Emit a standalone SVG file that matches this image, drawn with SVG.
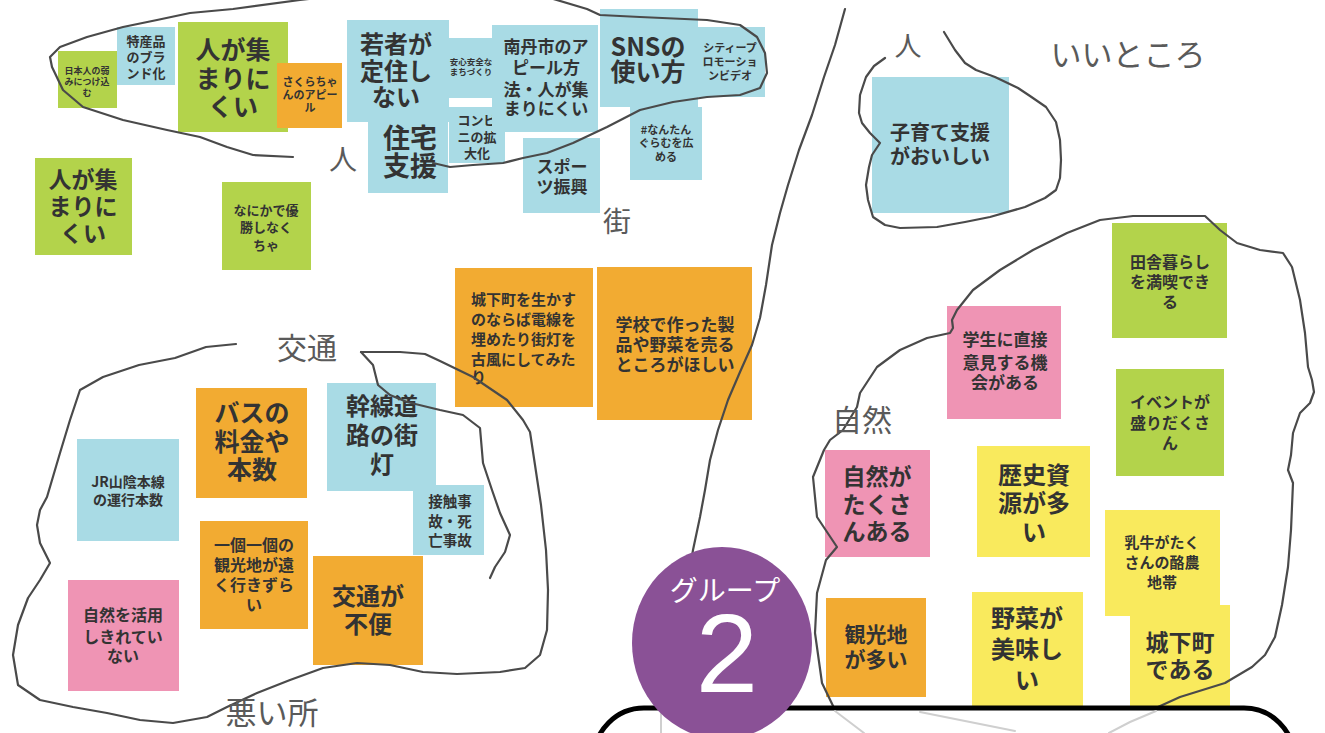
<svg xmlns="http://www.w3.org/2000/svg" width="1325" height="733" viewBox="0 0 1325 733">
<style>
.b{fill:#a9dbe5}.g{fill:#b3d34b}.o{fill:#f2ab32}.p{fill:#ef94b4}.y{fill:#f9ea5d}
text{font-family:"Noto Sans CJK JP","Noto Sans",sans-serif;font-weight:700;fill:#333;text-anchor:middle}
.lb{font-weight:400;fill:#5a5a5a}
.ln{fill:none;stroke:#4a4a4a;stroke-width:2.2;stroke-linejoin:round;stroke-linecap:round}
.fl{fill:none;stroke:#cfcfcf;stroke-width:2;stroke-linecap:round}
</style>
<rect width="1325" height="733" fill="#fff"/>
<g id="notes">
<g id="n1"><rect class="g" x="58" y="51" width="59" height="57"/><text font-size="9"><tspan x="87" y="74">日本人の弱</tspan><tspan x="87" y="85">みにつけ込</tspan><tspan x="87" y="96">む</tspan></text></g>
<g id="n2"><rect class="b" x="117" y="27" width="58" height="58"/><text font-size="13"><tspan x="146" y="46">特産品</tspan><tspan x="146" y="62">のブラ</tspan><tspan x="146" y="78">ンド化</tspan></text></g>
<g id="n3"><rect class="g" x="178" y="22" width="110" height="110"/><text font-size="25"><tspan x="233" y="59">人が集</tspan><tspan x="233" y="88">まりに</tspan><tspan x="233" y="116">くい</tspan></text></g>
<g id="n4"><rect class="o" x="277" y="63" width="65" height="65"/><text font-size="11"><tspan x="310" y="86">さくらちゃ</tspan><tspan x="310" y="99">んのアピー</tspan><tspan x="310" y="112">ル</tspan></text></g>
<g id="n5"><rect class="g" x="35" y="158" width="97" height="97"/><text font-size="23"><tspan x="83" y="188">人が集</tspan><tspan x="83" y="215">まりに</tspan><tspan x="83" y="242">くい</tspan></text></g>
<g id="n6"><rect class="g" x="222" y="182" width="89" height="88"/><text font-size="13"><tspan x="266" y="215">なにかで優</tspan><tspan x="266" y="232">勝しなく</tspan><tspan x="266" y="250">ちゃ</tspan></text></g>
<g id="n7"><rect class="b" x="347" y="20" width="102" height="102"/><text font-size="24"><tspan x="396" y="53">若者が</tspan><tspan x="396" y="80">定住し</tspan><tspan x="396" y="106">ない</tspan></text></g>
<g id="n8"><rect class="b" x="368" y="110" width="80" height="83"/><text font-size="27"><tspan x="410" y="148">住宅</tspan><tspan x="410" y="176">支援</tspan></text></g>
<g id="n9"><rect class="b" x="449" y="38" width="44" height="60"/><text font-size="8.5"><tspan x="471" y="65">安心安全な</tspan><tspan x="471" y="75">まちづくり</tspan></text></g>
<g id="n10"><rect class="b" x="449" y="107" width="56" height="56"/><text font-size="13"><tspan x="477" y="125">コンビ</tspan><tspan x="477" y="142">ニの拡</tspan><tspan x="477" y="158">大化</tspan></text></g>
<g id="n11"><rect class="b" x="492" y="25" width="106" height="107"/><text font-size="17"><tspan x="546" y="53">南丹市のア</tspan><tspan x="546" y="74">ピール方</tspan><tspan x="546" y="96">法・人が集</tspan><tspan x="546" y="115">まりにくい</tspan></text></g>
<g id="n12"><rect class="b" x="523" y="138" width="77" height="75"/><text font-size="17"><tspan x="562" y="173">スポー</tspan><tspan x="562" y="193">ツ振興</tspan></text></g>
<g id="n13"><rect class="b" x="600" y="9" width="98" height="98"/><text font-size="25"><tspan x="648" y="56">SNSの</tspan><tspan x="648" y="81">使い方</tspan></text></g>
<g id="n14"><rect class="b" x="697" y="27" width="68" height="70"/><text font-size="11"><tspan x="730" y="52">シティープ</tspan><tspan x="730" y="66">ロモーショ</tspan><tspan x="730" y="80">ンビデオ</tspan></text></g>
<g id="n15"><rect class="b" x="630" y="107" width="72" height="73"/><text font-size="11"><tspan x="666" y="134">#なんたん</tspan><tspan x="666" y="147">ぐらむを広</tspan><tspan x="666" y="161">める</tspan></text></g>
<g id="n16"><rect class="o" x="455" y="268" width="138" height="139"/><text font-size="15" style="text-anchor:start"><tspan x="471" y="305">城下町を生かす</tspan><tspan x="471" y="325">のならば電線を</tspan><tspan x="471" y="345">埋めたり街灯を</tspan><tspan x="471" y="365">古風にしてみた</tspan><tspan x="471" y="383">り</tspan></text></g>
<g id="n17"><rect class="o" x="597" y="267" width="155" height="153"/><text font-size="17"><tspan x="675" y="331">学校で作った製</tspan><tspan x="675" y="351">品や野菜を売る</tspan><tspan x="675" y="371">ところがほしい</tspan></text></g>
<g id="n18"><rect class="b" x="77" y="439" width="102" height="102"/><text font-size="14"><tspan x="128" y="487">JR山陰本線</tspan><tspan x="128" y="505">の運行本数</tspan></text></g>
<g id="n19"><rect class="o" x="196" y="388" width="111" height="110"/><text font-size="25"><tspan x="252" y="422">バスの</tspan><tspan x="252" y="451">料金や</tspan><tspan x="252" y="479">本数</tspan></text></g>
<g id="n20"><rect class="b" x="327" y="383" width="109" height="108"/><text font-size="24"><tspan x="382" y="415">幹線道</tspan><tspan x="382" y="444">路の街</tspan><tspan x="382" y="473">灯</tspan></text></g>
<g id="n21"><rect class="b" x="413" y="485" width="71" height="70"/><text font-size="14.5"><tspan x="450" y="507">接触事</tspan><tspan x="450" y="527">故・死</tspan><tspan x="450" y="546">亡事故</tspan></text></g>
<g id="n22"><rect class="o" x="200" y="521" width="108" height="108"/><text font-size="16"><tspan x="254" y="551">一個一個の</tspan><tspan x="254" y="571">観光地が遠</tspan><tspan x="254" y="591">く行きずら</tspan><tspan x="254" y="611">い</tspan></text></g>
<g id="n23"><rect class="o" x="313" y="556" width="110" height="109"/><text font-size="24"><tspan x="368" y="605">交通が</tspan><tspan x="368" y="633">不便</tspan></text></g>
<g id="n24"><rect class="p" x="68" y="580" width="111" height="111"/><text font-size="16"><tspan x="123" y="621">自然を活用</tspan><tspan x="123" y="643">しきれてい</tspan><tspan x="123" y="662">ない</tspan></text></g>
<g id="n25"><rect class="b" x="872" y="77" width="137" height="136"/><text font-size="20"><tspan x="940" y="140">子育て支援</tspan><tspan x="940" y="164">がおいしい</tspan></text></g>
<g id="n26"><rect class="g" x="1112" y="223" width="115" height="115"/><text font-size="16"><tspan x="1170" y="268">田舎暮らし</tspan><tspan x="1170" y="288">を満喫でき</tspan><tspan x="1170" y="308">る</tspan></text></g>
<g id="n27"><rect class="p" x="947" y="306" width="114" height="113"/><text font-size="17"><tspan x="1005" y="346">学生に直接</tspan><tspan x="1005" y="369">意見する機</tspan><tspan x="1005" y="389">会がある</tspan></text></g>
<g id="n28"><rect class="g" x="1116" y="369" width="108" height="107"/><text font-size="16"><tspan x="1170" y="408">イベントが</tspan><tspan x="1170" y="429">盛りだくさ</tspan><tspan x="1170" y="449">ん</tspan></text></g>
<g id="n29"><rect class="p" x="825" y="450" width="105" height="107"/><text font-size="23"><tspan x="877" y="485">自然が</tspan><tspan x="877" y="513">たくさ</tspan><tspan x="877" y="540">んある</tspan></text></g>
<g id="n30"><rect class="y" x="977" y="446" width="113" height="111"/><text font-size="24"><tspan x="1034" y="484">歴史資</tspan><tspan x="1034" y="512">源が多</tspan><tspan x="1034" y="541">い</tspan></text></g>
<g id="n31"><rect class="y" x="1105" y="510" width="115" height="106"/><text font-size="15"><tspan x="1162" y="548">乳牛がたく</tspan><tspan x="1162" y="568">さんの酪農</tspan><tspan x="1162" y="588">地帯</tspan></text></g>
<g id="n32"><rect class="o" x="826" y="598" width="100" height="99"/><text font-size="21"><tspan x="876" y="642">観光地</tspan><tspan x="876" y="667">が多い</tspan></text></g>
<g id="n33"><rect class="y" x="972" y="592" width="111" height="116"/><text font-size="24"><tspan x="1027" y="627">野菜が</tspan><tspan x="1027" y="658">美味し</tspan><tspan x="1027" y="689">い</tspan></text></g>
<g id="n34"><rect class="y" x="1130" y="605" width="100" height="103"/><text font-size="23"><tspan x="1180" y="651">城下町</tspan><tspan x="1180" y="678">である</tspan></text></g>
</g>
<g id="connectors">
<path class="ln" d="M293,157 L253,155 L227,147 L200,137 L167,130 L123,120 L83,107 L63,90 L52,67 L50,57 L60,47 L87,37 L123,27 L157,20 L190,13 L233,9 L300,0 L400,-12 L530,-8 L587,9 L600,15 L640,17 L707,20 L740,25 L757,37 L765,53 L767,73 L760,88 L740,95 L707,97 L673,102 L640,110 L607,127 L573,143 L547,153 L523,158 L503,163 L473,165 L450,167 L433,163"/>
<path class="ln" d="M845,9 L835,45 L824,77 L812,115 L799,150 L788,185 L780,213 L772,245 L766,285 L760,318 L752,345 L740,372 L728,400 L718,430 L710,460 L705,490 L700,517 L693,550 L688,580 L684,610"/>
<path class="ln" d="M944,32 L955,50 L965,63 L976,70 L995,77 L1018,88 L1030,96 L1046,107 L1056,122 L1060,140 L1061,160 L1060,178 L1056,190 L1045,198 L1025,207 L990,217 L965,222 L937,227 L900,228 L885,225 L873,217 L868,200 L866,185 L869,167 L872,155 L880,143 L870,133 L862,123 L859,113 L860,95 L866,77 L874,66 L885,58"/>
<path class="ln" d="M835,710 L822,683 L815,633 L817,593 L826,560 L837,547 L817,517 L813,477 L824,450 L830,440 L843,430 L857,407 L860,393 L877,367 L900,350 L927,338 L950,333 L953,328 L952,320 L957,310 L973,290 L1000,270 L1033,250 L1067,233 L1100,220 L1133,216 L1167,216 L1205,216 L1220,230 L1237,243 L1260,250 L1283,253 L1292,267 L1300,300 L1305,333 L1308,367 L1312,380 L1314,392 L1310,403 L1300,413 L1293,433 L1291,455 L1288,470 L1293,483 L1291,530 L1288,567 L1282,605 L1275,637 L1265,655 L1252,667 L1225,683 L1180,697 L1158,707"/>
<path class="ln" d="M236,344 L206,347 L175,358 L139,365 L103,377 L80,390 L70,420 L60,453 L47,497 L40,510 L37,525 L40,543 L50,563 L40,580 L28,598 L18,625 L13,655 L18,685 L40,700 L73,707 L107,713 L140,720 L173,723 L207,717 L227,707 L257,693 L290,680 L323,668 L357,663 L390,665 L423,672 L457,674 L500,672 L525,668 L540,655 L547,630 L548,590 L546,550 L541,505 L535,465 L530,432 L523,420 L507,400 L473,377 L440,361 L425,354 L400,352 L361,352"/>
<path class="ln" d="M361,352 L373,365 L378,385 L390,395 L407,402 L440,410 L463,415 L480,428 L483,463 L492,490 L500,513 L510,535 L505,552 L495,567 L490,578"/>
</g>
<g id="labels">
<text class="lb" x="343" y="170" font-size="28">人</text>
<text class="lb" x="617" y="232" font-size="28">街</text>
<text class="lb" x="908" y="56" font-size="27">人</text>
<text class="lb" x="1128" y="66" font-size="31">いいところ</text>
<text class="lb" x="307" y="359" font-size="30">交通</text>
<text class="lb" x="862" y="431" font-size="30">自然</text>
<text class="lb" x="272" y="724" font-size="31">悪い所</text>
</g>
<g id="panel">
<rect x="594" y="708" width="700" height="120" rx="50" fill="#fff" stroke="#000" stroke-width="5"/>
<path class="fl" d="M661,711 L661,733 M835,711 L864,733 M920,712 L970,722 L1015,731 M1156,711 L1130,722 L1109,733"/>
</g>
<g id="badge">
<ellipse cx="722" cy="643" rx="90" ry="96" fill="#8a5196"/>
<text x="725" y="601" font-size="28" style="fill:#fff;font-weight:400">グループ</text>
<text x="727" y="692" font-size="112" style="fill:#fff;font-weight:400;font-family:'Liberation Sans',sans-serif">2</text>
</g>
</svg>
